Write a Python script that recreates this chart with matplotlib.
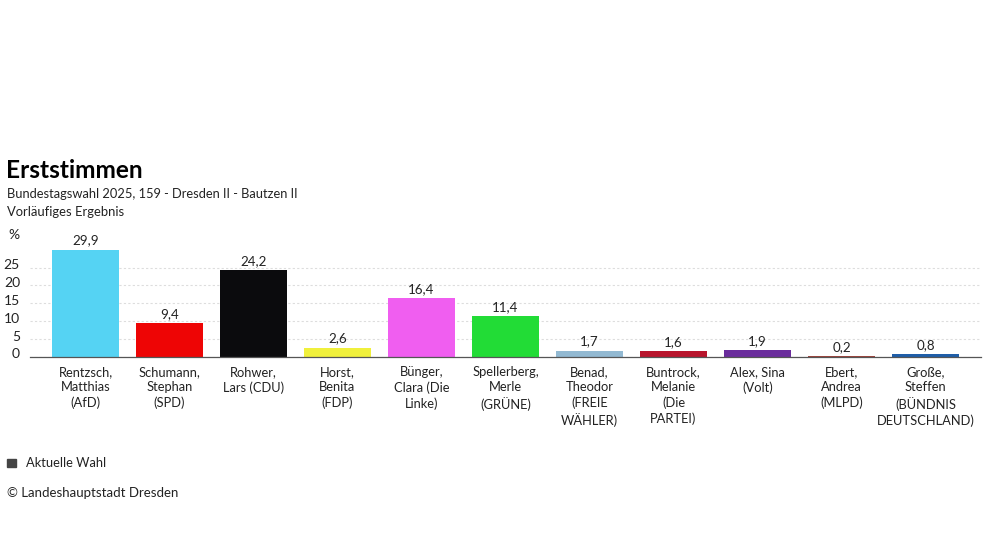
import matplotlib
matplotlib.use("Agg")
import matplotlib.pyplot as plt
from matplotlib.transforms import ScaledTranslation

candidates = ["Rentzsch,\nMatthias\n(AfD)", "Schumann,\nStephan\n(SPD)", "Rohwer,\nLars (CDU)",
              "Horst,\nBenita\n(FDP)", "Bünger,\nClara (Die\nLinke)", "Spellerberg,\nMerle\n(GRÜNE)",
              "Benad,\nTheodor\n(FREIE\nWÄHLER)", "Buntrock,\nMelanie\n(Die\nPARTEI)", "Alex, Sina\n(Volt)",
              "Ebert,\nAndrea\n(MLPD)", "Große,\nSteffen\n(BÜNDNIS\nDEUTSCHLAND)"]
values = [29.9, 9.4, 24.2, 2.6, 16.4, 11.4, 1.7, 1.6, 1.9, 0.2, 0.8]
colors = ["#55d3f3", "#ee0505", "#0b0b0d", "#f0f03c", "#f05ef0", "#22dc36",
          "#92b9d2", "#b8142c", "#6a2c9c", "#a0443c", "#1f5ea8"]
yticks = [0, 5, 10, 15, 20, 25]

plt.rcParams["font.family"] = ["Lato", "DejaVu Sans"]
W, H = 983, 553
fig = plt.figure(figsize=(W / 100, H / 100), dpi=100)
top, bottom = 240, 357
scale = 3.58
ax = fig.add_axes([30 / W, 1 - bottom / H, 951 / W, (bottom - top) / H])
ax.set_xlim(-0.66, 10.66)
ax.set_ylim(0, (bottom - top) / scale)
ax.set_axisbelow(True)
ax.yaxis.grid(True, color="#dddddd", lw=0.8, ls=(0, (2, 2)))
ax.xaxis.grid(False)
ax.bar(range(len(values)), values, width=0.8, color=colors)
for i, v in enumerate(values):
    ax.annotate(f"{v:.1f}".replace(".", ","), (i, v), xytext=(0, 2.5), textcoords="offset points",
                ha="center", va="bottom", fontsize=9.6, color="#222222")
for s in ["top", "left", "right"]:
    ax.spines[s].set_visible(False)
ax.spines["bottom"].set_color("#555555")
ax.spines["bottom"].set_linewidth(0.9)
ax.set_yticks(yticks)
ax.set_yticklabels([str(t) for t in yticks], fontsize=10, color="#222222", ha="right")
ax.tick_params(axis="y", length=0, pad=7.2)
lift = ScaledTranslation(0, 3.5 / 100, fig.dpi_scale_trans)
for lab in ax.get_yticklabels():
    lab.set_transform(lab.get_transform() + lift)
ax.set_xticks(range(len(values)))
ax.set_xticklabels(candidates, fontsize=9.3, color="#222222", linespacing=1.31, ha="center", va="top")
ax.tick_params(axis="x", length=0, pad=6.5)

def t(x, y, s, **k):
    fig.text(x / W, 1 - y / H, s, va="center", ha="left", color=k.pop("color", "#222222"), **k)

t(6.5, 171, "Erststimmen", fontsize=17.6, fontweight="bold", color="#000000")
t(7, 193.5, "Bundestagswahl 2025, 159 - Dresden II - Bautzen II", fontsize=9.3)
t(7, 211.5, "Vorläufiges Ergebnis", fontsize=9.4)
t(8.5, 235, "%", fontsize=10)
t(26, 463, "Aktuelle Wahl", fontsize=9.3)
t(7, 493, "© Landeshauptstadt Dresden", fontsize=9.5)
fig.patches.append(plt.Rectangle((7 / W, 1 - 467 / H), 9 / W, 8 / H, transform=fig.transFigure, color="#444444"))
fig.savefig("out.png", dpi=100)
